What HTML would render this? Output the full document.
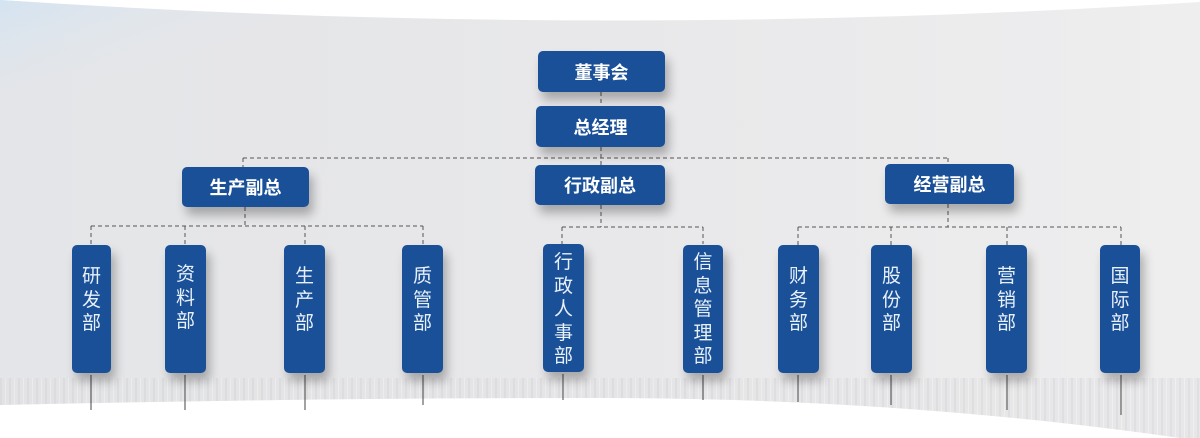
<!DOCTYPE html>
<html><head><meta charset="utf-8">
<style>
html,body{margin:0;padding:0;}
body{width:1200px;height:438px;position:relative;overflow:hidden;background:#fff;font-family:"Liberation Sans","Noto Sans CJK SC",sans-serif;}
.b{position:absolute;background:#1a5098;border-radius:5px;box-shadow:4px 8px 10px rgba(0,0,0,0.28);color:#fff;}
.h{font-weight:bold;font-size:18px;display:flex;align-items:center;justify-content:center;letter-spacing:0px;}
.v{font-size:19px;color:#e8f0fa;text-align:center;line-height:23.5px;}
svg{position:absolute;left:0;top:0;}
</style></head><body>
<svg width="1200" height="438">
<defs>
<linearGradient id="g" x1="0" y1="0" x2="1" y2="0">
<stop offset="0" stop-color="#e4e5e8"/><stop offset="0.5" stop-color="#e8e8ea"/><stop offset="1" stop-color="#eeeeef"/>
</linearGradient>
<linearGradient id="tl" x1="0" y1="0" x2="1" y2="1">
<stop offset="0" stop-color="#d4e4f2"/><stop offset="0.15" stop-color="#e4e6ea" stop-opacity="0"/>
</linearGradient>
<pattern id="st" width="9" height="60" patternUnits="userSpaceOnUse">
<rect width="9" height="60" fill="#e2e2e4"/><rect x="0" width="2" height="60" fill="#d4d4d7"/><rect x="5" width="1" height="60" fill="#f0f0f1"/>
</pattern>
</defs>
<path d="M0,0 Q600,40 1200,2 L1200,438 L1180,438 Q900,398 600,398 Q300,398 0,405 Z" fill="url(#g)"/>
<path d="M0,0 Q600,40 1200,2 L1200,438 L0,438 Z" fill="url(#tl)"/>
<path d="M0,378 L1200,378 L1200,438 L1180,438 Q900,398 600,398 Q300,398 0,405 Z" fill="url(#st)" opacity="0.55"/>
<g stroke="#555" stroke-width="1" stroke-dasharray="4,3" fill="none">
<line x1="601" y1="92" x2="601" y2="106"/>
<line x1="601" y1="147" x2="601" y2="165"/>
<line x1="243" y1="158" x2="948" y2="158"/>
<line x1="243" y1="158" x2="243" y2="167"/>
<line x1="948" y1="158" x2="948" y2="164"/>
<line x1="245" y1="207" x2="245" y2="226"/>
<line x1="91" y1="226" x2="423" y2="226"/>
<line x1="91" y1="226" x2="91" y2="245"/><line x1="185" y1="226" x2="185" y2="245"/>
<line x1="305" y1="226" x2="305" y2="245"/><line x1="423" y1="226" x2="423" y2="245"/>
<line x1="601" y1="205" x2="601" y2="227"/>
<line x1="562" y1="227" x2="703" y2="227"/>
<line x1="562" y1="227" x2="562" y2="244"/><line x1="703" y1="227" x2="703" y2="244"/>
<line x1="948" y1="204" x2="948" y2="227"/>
<line x1="798" y1="227" x2="1121" y2="227"/>
<line x1="798" y1="227" x2="798" y2="245"/><line x1="891" y1="227" x2="891" y2="245"/>
<line x1="1007" y1="227" x2="1007" y2="245"/><line x1="1121" y1="227" x2="1121" y2="245"/>
</g>
<g stroke="#444" stroke-width="1">
<line x1="91" y1="375" x2="91" y2="410"/><line x1="185" y1="375" x2="185" y2="410"/>
<line x1="305" y1="375" x2="305" y2="410"/><line x1="423" y1="375" x2="423" y2="405"/>
<line x1="563" y1="374" x2="563" y2="400"/><line x1="703" y1="375" x2="703" y2="400"/>
<line x1="798" y1="375" x2="798" y2="402"/><line x1="891" y1="375" x2="891" y2="405"/>
<line x1="1007" y1="375" x2="1007" y2="410"/><line x1="1121" y1="375" x2="1121" y2="415"/>
</g>
</svg>
<div class="b h" style="left:538px;top:51px;width:127px;height:41px;">董事会</div>
<div class="b h" style="left:536px;top:106px;width:129px;height:41px;">总经理</div>
<div class="b h" style="left:535px;top:165px;width:130px;height:40px;">行政副总</div>
<div class="b h" style="left:182px;top:167px;width:127px;height:40px;">生产副总</div>
<div class="b h" style="left:885px;top:164px;width:129px;height:40px;">经营副总</div>

<div class="b v" style="left:72px;top:245px;width:39px;height:128px;"><div style="padding-top:20px">研<br>发<br>部</div></div>
<div class="b v" style="left:165px;top:245px;width:41px;height:128px;"><div style="padding-top:18px">资<br>料<br>部</div></div>
<div class="b v" style="left:284px;top:245px;width:41px;height:128px;"><div style="padding-top:20px">生<br>产<br>部</div></div>
<div class="b v" style="left:402px;top:245px;width:41px;height:128px;"><div style="padding-top:20px">质<br>管<br>部</div></div>
<div class="b v" style="left:543px;top:244px;width:41px;height:128px;"><div style="padding-top:7px">行<br>政<br>人<br>事<br>部</div></div>
<div class="b v" style="left:683px;top:245px;width:40px;height:128px;"><div style="padding-top:6px">信<br>息<br>管<br>理<br>部</div></div>
<div class="b v" style="left:778px;top:245px;width:41px;height:128px;"><div style="padding-top:20px">财<br>务<br>部</div></div>
<div class="b v" style="left:871px;top:245px;width:41px;height:128px;"><div style="padding-top:20px">股<br>份<br>部</div></div>
<div class="b v" style="left:986px;top:245px;width:41px;height:128px;"><div style="padding-top:20px">营<br>销<br>部</div></div>
<div class="b v" style="left:1100px;top:245px;width:40px;height:128px;"><div style="padding-top:20px">国<br>际<br>部</div></div>
</body></html>
